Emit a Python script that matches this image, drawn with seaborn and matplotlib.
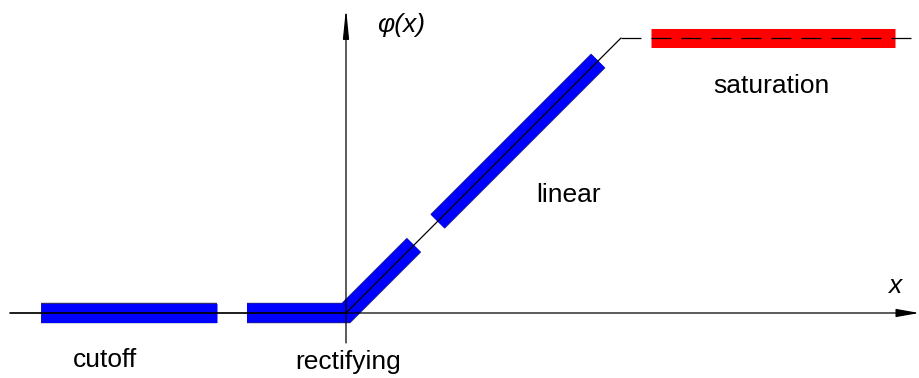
import matplotlib
matplotlib.use("Agg")
import matplotlib.pyplot as plt
import matplotlib.patheffects as pe
import seaborn as sns

# Activation function phi(x): zero below 0, identity up to 1, flat above 1
phi_x = [-1.222, 0.0, 1.0]
phi_y = [0.0, 0.0, 1.0]
sat_line_x = [1.0, 2.084]
sat_line_y = [1.0, 1.0]

# Highlighted operating regions
cutoff_x = [-1.109, -0.469]
cutoff_y = [0.0, 0.0]
rect_x = [-0.36, 0.0, 0.247]
rect_y = [0.0, 0.0, 0.247]
linear_x = [0.333, 0.917]
linear_y = [0.333, 0.917]
sat_x = [1.109, 1.996]
sat_y = [1.0, 1.0]

region_labels = ["cutoff", "rectifying", "linear", "saturation"]
region_label_x = [-0.875, 0.008, 0.810, 1.547]
region_label_y = [-0.196, -0.204, 0.404, 0.800]

sns.set_theme(style="white")
plt.rcParams["font.family"] = ["Liberation Sans", "DejaVu Sans"]
plt.rcParams["text.color"] = "black"

fig = plt.figure(figsize=(9.19, 3.78), dpi=100)
ax = fig.add_axes([0, 0, 1, 1])
ax.set_xlim(-346 / 275, 573 / 275)
ax.set_ylim(-65 / 275, 313 / 275)
ax.set_axis_off()

bar_lw = 13.7
edge = [pe.Stroke(linewidth=bar_lw + 1.0, foreground="#30306a"), pe.Normal()]

for xs, ys in [(cutoff_x, cutoff_y), (rect_x, rect_y), (linear_x, linear_y)]:
    sns.lineplot(x=xs, y=ys, ax=ax, color="#0000ff", linewidth=bar_lw,
                 sort=False, estimator=None, solid_capstyle="butt",
                 solid_joinstyle="miter", path_effects=edge, zorder=2)
sns.lineplot(x=sat_x, y=sat_y, ax=ax, color="#ff0000", linewidth=bar_lw,
             sort=False, estimator=None, solid_capstyle="butt", zorder=2)

# function curve
sns.lineplot(x=phi_x, y=phi_y, ax=ax, color="black", linewidth=0.9,
             sort=False, estimator=None, zorder=3)
sns.lineplot(x=sat_line_x, y=sat_line_y, ax=ax, color="black", linewidth=0.9,
             sort=False, estimator=None, linestyle=(0, (16, 8)), zorder=3)

# coordinate axes with arrow heads
ax.annotate("", xy=(2.084, 0), xytext=(-1.222, 0),
            arrowprops=dict(arrowstyle="-|>,head_length=1.4,head_width=0.25",
                            lw=0.9, color="black", shrinkA=0, shrinkB=0,
                            mutation_scale=10), zorder=4)
ax.annotate("", xy=(0, 1.109), xytext=(0, -0.109),
            arrowprops=dict(arrowstyle="-|>,head_length=1.8,head_width=0.18",
                            lw=0.9, color="black", shrinkA=0, shrinkB=0,
                            mutation_scale=10), zorder=4)

ax.text(0.2, 1.023, "φ(x)", fontsize=19, style="italic", ha="center",
        va="baseline", color="black")
ax.text(1.996, 0.073, "x", fontsize=19, style="italic", ha="center",
        va="baseline", color="black")

for lbl, lx, ly in zip(region_labels, region_label_x, region_label_y):
    ax.text(lx, ly, lbl, fontsize=19, ha="center", va="baseline", color="black")

fig.savefig("out.png", dpi=100)
